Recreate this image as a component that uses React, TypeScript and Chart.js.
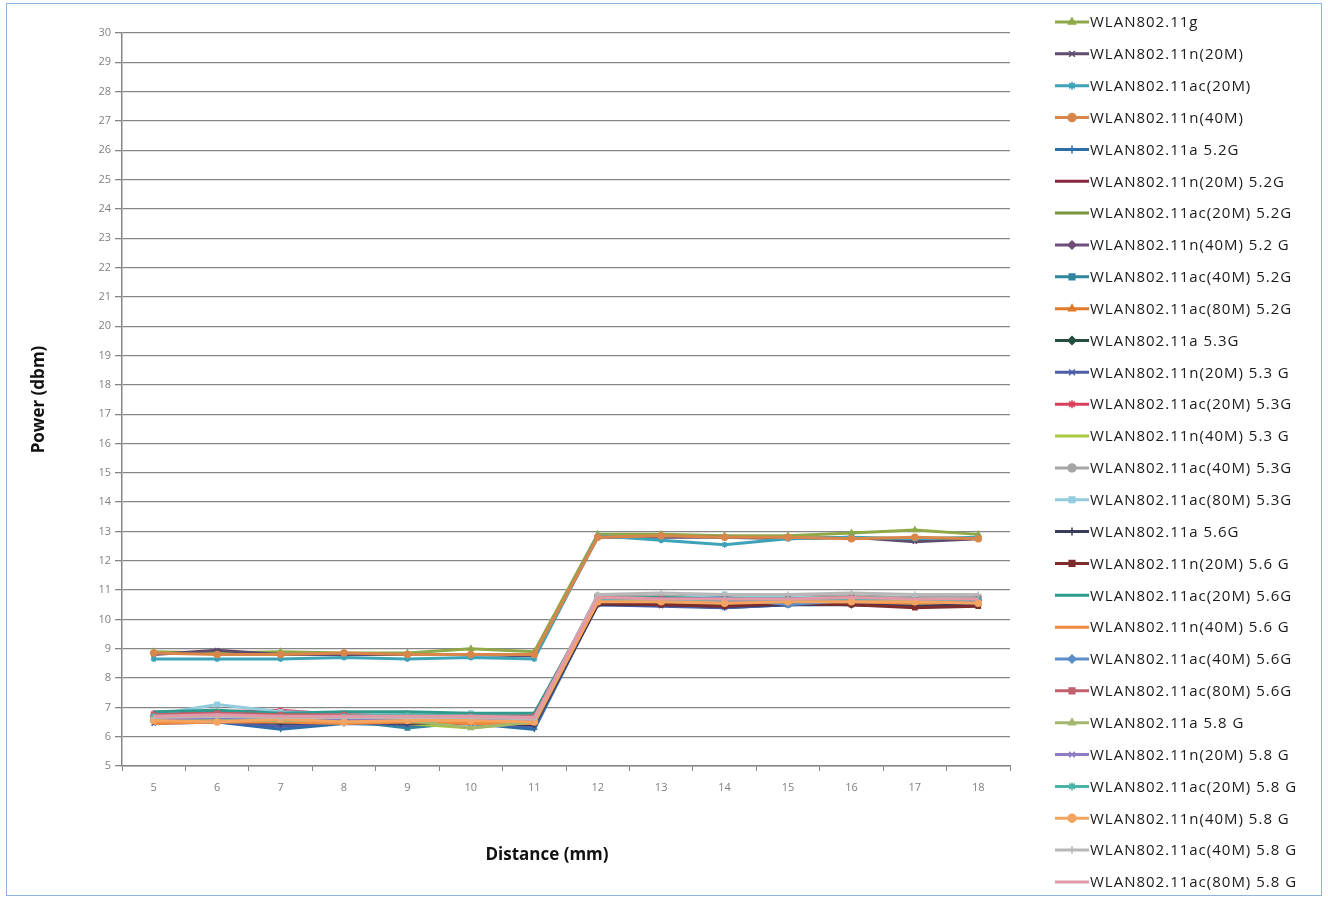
import React, { useEffect, useRef } from 'react';
import { Chart, registerables } from 'chart.js';
import { drawPoint } from 'chart.js/helpers';

Chart.register(...registerables);

const distanceLabels = ['5', '6', '7', '8', '9', '10', '11', '12', '13', '14', '15', '16', '17', '18'];
const yMin = 5;
const yMax = 30;
const yStep = 1;

const seriesNames = [
  'WLAN802.11g',
  'WLAN802.11n(20M)',
  'WLAN802.11ac(20M)',
  'WLAN802.11n(40M)',
  'WLAN802.11a 5.2G',
  'WLAN802.11n(20M) 5.2G',
  'WLAN802.11ac(20M) 5.2G',
  'WLAN802.11n(40M) 5.2 G',
  'WLAN802.11ac(40M) 5.2G',
  'WLAN802.11ac(80M) 5.2G',
  'WLAN802.11a 5.3G',
  'WLAN802.11n(20M) 5.3 G',
  'WLAN802.11ac(20M) 5.3G',
  'WLAN802.11n(40M) 5.3 G',
  'WLAN802.11ac(40M) 5.3G',
  'WLAN802.11ac(80M) 5.3G',
  'WLAN802.11a 5.6G',
  'WLAN802.11n(20M) 5.6 G',
  'WLAN802.11ac(20M) 5.6G',
  'WLAN802.11n(40M) 5.6 G',
  'WLAN802.11ac(40M) 5.6G',
  'WLAN802.11ac(80M) 5.6G',
  'WLAN802.11a 5.8 G',
  'WLAN802.11n(20M) 5.8 G',
  'WLAN802.11ac(20M) 5.8 G',
  'WLAN802.11n(40M) 5.8 G',
  'WLAN802.11ac(40M) 5.8 G',
  'WLAN802.11ac(80M) 5.8 G',
];

const seriesColors = [
  '#8FA948', '#5E4B6E', '#3FA3B8', '#D8864A',
  '#2C6FA8', '#8B2540', '#77933C', '#6F4E7C', '#31859C', '#E07A2A',
  '#254E3E', '#4A5FA8', '#D9405C', '#A9C93E', '#A6A6A6', '#93CDDD',
  '#3B3B5C', '#7E2C2C', '#2E9A8E', '#F08A3C', '#5B8DC8', '#C0606E',
  '#A3B86C', '#8E7CC3', '#4BB4A8', '#F4A460', '#B8B8B8', '#E29AA8',
];

const seriesMarkers: (string | false)[] = [
  'triangle', 'crossRot', 'star', 'circle',
  'cross', false, 'line', 'rectRot', 'rect', 'triangle',
  'rectRot', 'crossRot', 'star', 'line', 'circle', 'rect',
  'cross', 'rect', false, false, 'rectRot', 'rect',
  'triangle', 'crossRot', 'star', 'circle', 'cross', false,
];

// 2.4 GHz
const wlan11g = [8.9, 8.85, 8.9, 8.85, 8.85, 9.0, 8.9, 12.9, 12.9, 12.85, 12.85, 12.95, 13.05, 12.9];
const wlan11n20 = [8.8, 8.95, 8.8, 8.8, 8.8, 8.8, 8.75, 12.8, 12.8, 12.8, 12.75, 12.8, 12.65, 12.75];
const wlan11ac20 = [8.65, 8.65, 8.65, 8.7, 8.65, 8.7, 8.65, 12.85, 12.7, 12.55, 12.75, 12.8, 12.75, 12.8];
const wlan11n40 = [8.85, 8.8, 8.8, 8.85, 8.8, 8.8, 8.8, 12.8, 12.85, 12.8, 12.8, 12.75, 12.8, 12.75];
// 5.2 GHz
const wlan11a52 = [6.5, 6.5, 6.25, 6.45, 6.4, 6.45, 6.25, 10.55, 10.5, 10.4, 10.5, 10.55, 10.45, 10.5];
const wlan11n20_52 = [6.6, 6.65, 6.55, 6.6, 6.55, 6.6, 6.55, 10.6, 10.55, 10.5, 10.55, 10.55, 10.45, 10.5];
const wlan11ac20_52 = [6.7, 6.75, 6.65, 6.7, 6.6, 6.5, 6.6, 10.7, 10.65, 10.6, 10.65, 10.7, 10.6, 10.65];
const wlan11n40_52 = [6.7, 6.8, 6.7, 6.7, 6.65, 6.65, 6.65, 10.75, 10.7, 10.65, 10.7, 10.7, 10.65, 10.7];
const wlan11ac40_52 = [6.6, 6.6, 6.5, 6.55, 6.3, 6.5, 6.5, 10.6, 10.55, 10.55, 10.5, 10.6, 10.55, 10.55];
const wlan11ac80_52 = [6.75, 6.7, 6.6, 6.7, 6.7, 6.65, 6.6, 10.7, 10.75, 10.7, 10.65, 10.75, 10.7, 10.7];
// 5.3 GHz
const wlan11a53 = [6.55, 6.6, 6.5, 6.55, 6.5, 6.55, 6.45, 10.55, 10.6, 10.5, 10.55, 10.5, 10.5, 10.55];
const wlan11n20_53 = [6.45, 6.5, 6.35, 6.5, 6.4, 6.45, 6.35, 10.5, 10.45, 10.4, 10.5, 10.55, 10.45, 10.5];
const wlan11ac20_53 = [6.8, 6.85, 6.9, 6.75, 6.8, 6.75, 6.7, 10.8, 10.75, 10.7, 10.75, 10.8, 10.7, 10.75];
const wlan11n40_53 = [6.6, 6.6, 6.55, 6.6, 6.45, 6.3, 6.5, 10.65, 10.6, 10.55, 10.6, 10.65, 10.55, 10.6];
const wlan11ac40_53 = [6.7, 6.75, 6.7, 6.7, 6.7, 6.65, 6.65, 10.8, 10.8, 10.75, 10.75, 10.8, 10.75, 10.75];
const wlan11ac80_53 = [6.75, 7.1, 6.85, 6.8, 6.75, 6.8, 6.75, 10.75, 10.7, 10.85, 10.75, 10.75, 10.7, 10.7];
// 5.6 GHz
const wlan11a56 = [6.5, 6.55, 6.45, 6.5, 6.45, 6.5, 6.4, 10.5, 10.5, 10.45, 10.5, 10.5, 10.45, 10.5];
const wlan11n20_56 = [6.65, 6.7, 6.6, 6.65, 6.6, 6.6, 6.55, 10.55, 10.5, 10.45, 10.55, 10.5, 10.4, 10.45];
const wlan11ac20_56 = [6.85, 6.9, 6.8, 6.85, 6.85, 6.8, 6.8, 10.7, 10.75, 10.7, 10.7, 10.75, 10.7, 10.65];
const wlan11n40_56 = [6.45, 6.5, 6.5, 6.45, 6.5, 6.45, 6.45, 10.6, 10.65, 10.6, 10.6, 10.6, 10.55, 10.6];
const wlan11ac40_56 = [6.6, 6.65, 6.6, 6.6, 6.55, 6.6, 6.55, 10.7, 10.65, 10.75, 10.5, 10.65, 10.6, 10.65];
const wlan11ac80_56 = [6.75, 6.8, 6.75, 6.75, 6.7, 6.7, 6.7, 10.75, 10.7, 10.7, 10.7, 10.75, 10.65, 10.7];
// 5.8 GHz
const wlan11a58 = [6.55, 6.6, 6.55, 6.55, 6.55, 6.3, 6.5, 10.65, 10.6, 10.65, 10.6, 10.65, 10.6, 10.6];
const wlan11n20_58 = [6.6, 6.65, 6.6, 6.6, 6.6, 6.6, 6.55, 10.65, 10.7, 10.65, 10.65, 10.7, 10.65, 10.65];
const wlan11ac20_58 = [6.7, 6.7, 6.65, 6.7, 6.75, 6.7, 6.65, 10.7, 10.65, 10.7, 10.7, 10.7, 10.65, 10.7];
const wlan11n40_58 = [6.55, 6.5, 6.6, 6.5, 6.55, 6.55, 6.5, 10.6, 10.6, 10.55, 10.6, 10.6, 10.6, 10.55];
const wlan11ac40_58 = [6.65, 6.7, 6.65, 6.65, 6.65, 6.65, 6.6, 10.85, 10.9, 10.85, 10.85, 10.9, 10.85, 10.85];
const wlan11ac80_58 = [6.7, 6.75, 6.7, 6.7, 6.7, 6.7, 6.65, 10.75, 10.7, 10.7, 10.7, 10.75, 10.7, 10.7];

const seriesValues = [
  wlan11g, wlan11n20, wlan11ac20, wlan11n40,
  wlan11a52, wlan11n20_52, wlan11ac20_52, wlan11n40_52, wlan11ac40_52, wlan11ac80_52,
  wlan11a53, wlan11n20_53, wlan11ac20_53, wlan11n40_53, wlan11ac40_53, wlan11ac80_53,
  wlan11a56, wlan11n20_56, wlan11ac20_56, wlan11n40_56, wlan11ac40_56, wlan11ac80_56,
  wlan11a58, wlan11n20_58, wlan11ac20_58, wlan11n40_58, wlan11ac40_58, wlan11ac80_58,
];

const xTitle = 'Distance (mm)';
const yTitle = 'Power (dbm)';

const TEXT_FONT = '"Open Sans", "Liberation Sans", sans-serif';

const sidePlugin = {
  id: 'sideLegendAndTitle',
  afterDraw(chart: any) {
    const { ctx, chartArea } = chart;
    ctx.save();
    const lx = chartArea.right + 45;
    const startY = 22;
    const step = 31.85;
    chart.data.datasets.forEach((ds: any, i: number) => {
      const y = startY + i * step;
      ctx.strokeStyle = ds.borderColor;
      ctx.fillStyle = ds.borderColor;
      ctx.lineWidth = 3;
      ctx.beginPath();
      ctx.moveTo(lx, y);
      ctx.lineTo(lx + 34, y);
      ctx.stroke();
      if (ds.pointStyle) {
        ctx.lineWidth = 1.5;
        drawPoint(ctx, { pointStyle: ds.pointStyle, radius: 4, borderWidth: 1.5, rotation: 0 } as any, lx + 17, y);
      }
      ctx.fillStyle = '#1a1a1a';
      ctx.font = '15px ' + TEXT_FONT;
      try {
        (ctx as any).letterSpacing = '1px';
      } catch (e) {
        /* ignore */
      }
      ctx.textBaseline = 'middle';
      ctx.textAlign = 'left';
      ctx.fillText(seriesNames[i], lx + 35, y + 1);
    });
    try {
      (ctx as any).letterSpacing = '0px';
    } catch (e) {
      /* ignore */
    }
    ctx.font = 'bold 17px ' + TEXT_FONT;
    ctx.fillStyle = '#111';
    ctx.textAlign = 'center';
    ctx.textBaseline = 'middle';
    ctx.fillText(xTitle, (chartArea.left + chartArea.right) / 2 - 19, 855);
    ctx.restore();
  },
};

export default function App() {
  const canvasRef = useRef<HTMLCanvasElement | null>(null);

  useEffect(() => {
    if (!canvasRef.current) return;
    const n = seriesValues.length;
    const chart = new Chart(canvasRef.current, {
      type: 'line',
      data: {
        labels: distanceLabels,
        datasets: seriesValues.map((vals, i) => ({
          label: seriesNames[i],
          data: vals,
          borderColor: seriesColors[i],
          backgroundColor: seriesColors[i],
          pointBackgroundColor: seriesColors[i],
          pointBorderColor: seriesColors[i],
          pointStyle: seriesMarkers[i] as any,
          pointRadius: seriesMarkers[i] ? 3 : 0,
          pointBorderWidth: 1.5,
          borderWidth: 3,
          tension: 0,
          fill: false,
          order: n - i,
        })),
      },
      options: {
        animation: false,
        responsive: true,
        maintainAspectRatio: false,
        layout: { padding: { top: 33, right: 318, bottom: 0, left: 0 } },
        plugins: {
          legend: { display: false },
          tooltip: { enabled: false },
          title: { display: false },
        },
        scales: {
          x: {
            type: 'category',
            offset: true,
            grid: {
              display: true,
              drawOnChartArea: false,
              drawTicks: true,
              tickLength: 5,
              offset: true,
              color: '#868686',
            },
            border: { display: true, color: '#868686', width: 1.5 },
            ticks: {
              color: '#808080',
              font: { size: 11, family: TEXT_FONT },
              padding: 10,
              maxRotation: 0,
              autoSkip: false,
            },
            afterFit: (scale: any) => {
              scale.height = 133;
            },
          },
          y: {
            min: yMin,
            max: yMax,
            grid: {
              color: '#868686',
              lineWidth: 1.3,
              drawTicks: true,
              tickLength: 7,
            },
            border: { display: true, color: '#868686', width: 1.5 },
            ticks: {
              stepSize: yStep,
              color: '#808080',
              font: { size: 11, family: TEXT_FONT },
              padding: 4,
            },
            title: {
              display: true,
              text: yTitle,
              color: '#111',
              font: { size: 17, weight: 'bold', family: TEXT_FONT },
              padding: { top: 29, bottom: 0 },
            },
            afterFit: (scale: any) => {
              scale.width = 122;
            },
          },
        },
      },
      plugins: [sidePlugin],
    });
    return () => chart.destroy();
  }, []);

  return (
    <div style={{ position: 'absolute', left: 0, top: 0, width: 1328, height: 899, background: '#fff' }}>
      <div
        style={{
          position: 'absolute',
          left: 6,
          top: 3,
          width: 1314,
          height: 891,
          border: '1px solid #8DB3E2',
          pointerEvents: 'none',
        }}
      />
      <canvas ref={canvasRef} />
    </div>
  );
}
